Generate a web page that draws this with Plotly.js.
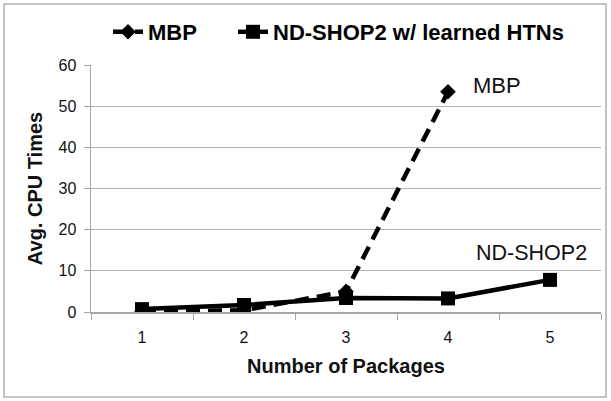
<!DOCTYPE html>
<html>
<head>
<meta charset="utf-8">
<script src="https://cdn.plot.ly/plotly-3.0.1.min.js"></script>
<style>html,body{margin:0;padding:0;background:#fff;}#chart{width:611px;height:401px;}</style>
</head>
<body>
<div id="chart"></div>
<script>
const categories = ['1', '2', '3', '4', '5'];
const mbpValues = [0.2, 0.4, 5.0, 53.5];
const ndValues = [0.7, 1.7, 3.4, 3.3, 7.8];
const seriesNames = ['MBP', 'ND-SHOP2 w/ learned HTNs'];
const yTicks = [0, 10, 20, 30, 40, 50, 60];
const labelMBP = 'MBP';
const labelND = 'ND-SHOP2';

const fontFam = 'Liberation Sans, Arial, sans-serif';

const traces = [
  {
    x: categories.slice(0, mbpValues.length), y: mbpValues, name: seriesNames[0],
    type: 'scatter', mode: 'lines+markers', legend: 'legend',
    line: {color: '#000', width: 4.5, dash: '14px,8px'},
    marker: {symbol: 'diamond', size: 12, color: '#000'}
  },
  {
    x: categories, y: ndValues, name: seriesNames[1],
    type: 'scatter', mode: 'lines+markers', legend: 'legend2',
    line: {color: '#000', width: 4.5},
    marker: {symbol: 'square', size: 14, color: '#000'}
  }
];

const legendFont = {family: fontFam, size: 22, color: '#000', weight: 'bold'};

const layout = {
  width: 611, height: 401,
  margin: {l: 91, r: 10, t: 65, b: 89},
  paper_bgcolor: '#fff', plot_bgcolor: '#fff',
  font: {family: fontFam, color: '#111'},
  showlegend: true,
  legend: {
    orientation: 'h', xref: 'container', yref: 'container',
    x: 108 / 611, xanchor: 'left', y: 1 - 32 / 401, yanchor: 'middle',
    font: legendFont, itemwidth: 30, bgcolor: 'rgba(0,0,0,0)'
  },
  legend2: {
    orientation: 'h', xref: 'container', yref: 'container',
    x: 233 / 611, xanchor: 'left', y: 1 - 32 / 401, yanchor: 'middle',
    font: legendFont, itemwidth: 30, bgcolor: 'rgba(0,0,0,0)'
  },
  xaxis: {
    type: 'category', range: [-0.5, 4.5],
    tickson: 'boundaries', ticks: 'outside', ticklen: 6, tickcolor: '#a6a6a6',
    showline: true, linecolor: '#a6a6a6', linewidth: 1.5,
    showgrid: false, zeroline: false, automargin: false,
    ticklabelstandoff: 10,
    tickfont: {family: fontFam, size: 16, color: '#111'},
    title: {text: 'Number of Packages', font: {family: fontFam, size: 20, color: '#111', weight: 'bold'}, standoff: 14}
  },
  yaxis: {
    range: [0, 60], tickvals: yTicks, ticktext: yTicks.map(String),
    ticks: 'outside', ticklen: 6, tickcolor: '#a6a6a6',
    showline: true, linecolor: '#a6a6a6', linewidth: 1.5,
    showgrid: true, gridcolor: '#b3b3b3', gridwidth: 1.3,
    zeroline: false, automargin: false,
    ticklabelstandoff: 4,
    tickfont: {family: fontFam, size: 16, color: '#111'},
    title: {text: 'Avg. CPU Times', font: {family: fontFam, size: 20, color: '#111', weight: 'bold'}, standoff: 10}
  },
  annotations: [
    {x: categories.indexOf('4'), y: mbpValues[3], xref: 'x', yref: 'y', text: labelMBP, showarrow: false,
     xanchor: 'left', yanchor: 'middle', xshift: 23, yshift: 6,
     font: {family: fontFam, size: 22, color: '#111'}},
    {x: categories.indexOf('5'), y: ndValues[4], xref: 'x', yref: 'y', text: labelND, showarrow: false,
     xanchor: 'left', yanchor: 'middle', xshift: -76, yshift: 27,
     font: {family: fontFam, size: 21.5, color: '#111'}}
  ],
  shapes: [
    {type: 'rect', xref: 'paper', yref: 'paper',
     x0: (4 - 91) / 510, x1: (606 - 91) / 510, y0: (312 - 397) / 247, y1: (312 - 4) / 247,
     line: {color: '#b0b0b0', width: 1.5}, fillcolor: 'rgba(0,0,0,0)', layer: 'below'}
  ]
};

Plotly.newPlot('chart', traces, layout, {displayModeBar: false, staticPlot: true});
</script>
</body>
</html>
